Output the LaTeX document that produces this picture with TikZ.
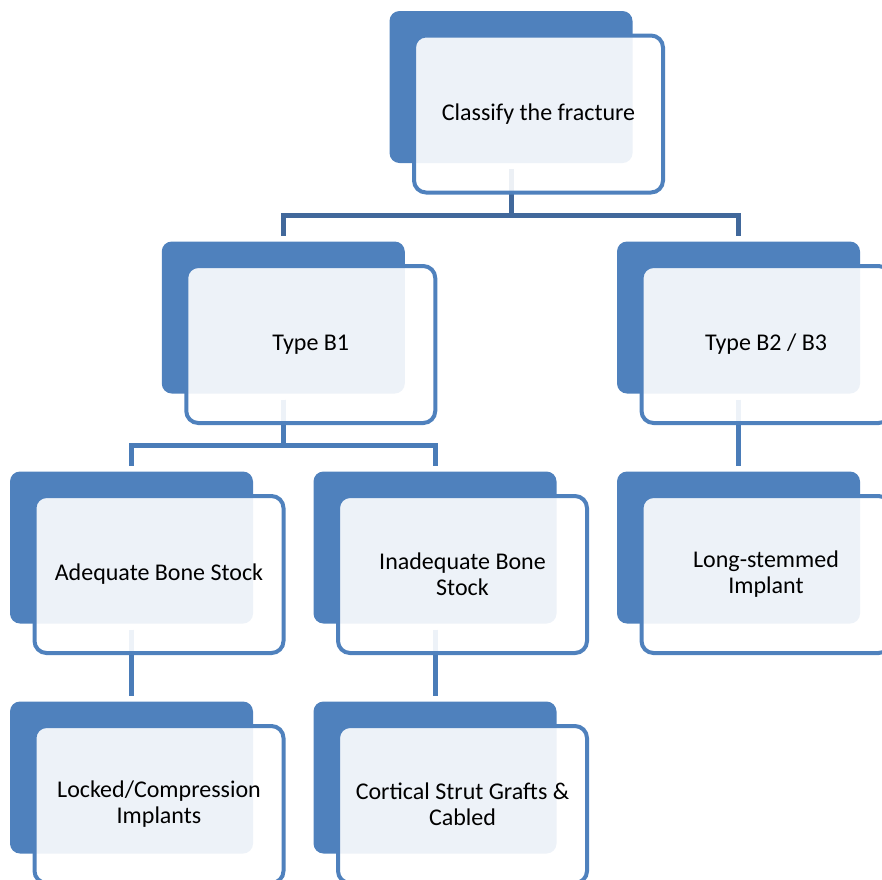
\documentclass[tikz,border=0pt]{standalone}
\usepackage{fontspec}
\setmainfont{Carlito}
\definecolor{boxblue}{HTML}{4F81BD}
\definecolor{linetop}{HTML}{41689B}
\definecolor{linelow}{HTML}{4A7CB8}
\begin{document}
\begin{tikzpicture}[x=1pt,y=-1pt,
  backbox/.style={fill=boxblue, rounded corners=10pt, minimum width=243pt, minimum height=152pt, inner sep=0pt, outer sep=0pt},
  frontbox/.style={draw=boxblue, line width=4pt, fill=white, fill opacity=0.9, text opacity=1, rounded corners=12pt, minimum width=249pt, minimum height=157pt, inner sep=0pt, align=center, font=\fontsize{24}{26}\selectfont, text=black},
  conntop/.style={draw=linetop, line width=5pt},
  connlow/.style={draw=linelow, line width=5pt}]
\useasboundingbox (0,0) rectangle (882,879);
\clip (0,0) rectangle (882,879);
% back boxes
\node[backbox] (tb) at (511,87) {};
\node[backbox] (b1b) at (283.25,317.5) {};
\node[backbox] (b2b) at (738.5,317.5) {};
\node[backbox] (adb) at (131.5,547.5) {};
\node[backbox] (inb) at (435,547.5) {};
\node[backbox] (lsb) at (738.5,547.5) {};
\node[backbox] (lcb) at (131.5,777.5) {};
\node[backbox] (csb) at (435,777.5) {};
% connectors
\draw[conntop] ([yshift=-6pt]tb.south) -- ++(0,46) -| ([yshift=6pt]b1b.north);
\draw[conntop] ([yshift=-6pt]tb.south) -- ++(0,46) -| ([yshift=6pt]b2b.north);
\draw[connlow] ([yshift=-6pt]b1b.south) -- ++(0,46) -| ([yshift=6pt]adb.north);
\draw[connlow] ([yshift=-6pt]b1b.south) -- ++(0,46) -| ([yshift=6pt]inb.north);
\draw[connlow] ([yshift=-6pt]b2b.south) -- ([yshift=6pt]lsb.north);
\draw[connlow] ([yshift=-6pt]adb.south) -- ([yshift=6pt]lcb.north);
\draw[connlow] ([yshift=-6pt]inb.south) -- ([yshift=6pt]csb.north);
% front boxes
\node[frontbox] (tf) at ([shift={(27.5pt,-27pt)}]tb.center) {Classify the fracture};
\node[frontbox] (b1f) at ([shift={(27.5pt,-27pt)}]b1b.center) {Type B1};
\node[frontbox] (b2f) at ([shift={(27.5pt,-27pt)}]b2b.center) {Type B2 / B3};
\node[frontbox] (adf) at ([shift={(27.5pt,-27pt)}]adb.center) {Adequate Bone Stock};
\node[frontbox] (inf) at ([shift={(27.5pt,-27pt)}]inb.center) {Inadequate Bone\\Stock};
\node[frontbox] (lsf) at ([shift={(27.5pt,-27pt)}]lsb.center) {Long-stemmed\\Implant};
\node[frontbox] (lcf) at ([shift={(27.5pt,-27pt)}]lcb.center) {Locked/Compression\\Implants};
\node[frontbox] (csf) at ([shift={(27.5pt,-27pt)}]csb.center) {Cortical Strut Grafts \&\\Cabled};
\end{tikzpicture}
\end{document}
